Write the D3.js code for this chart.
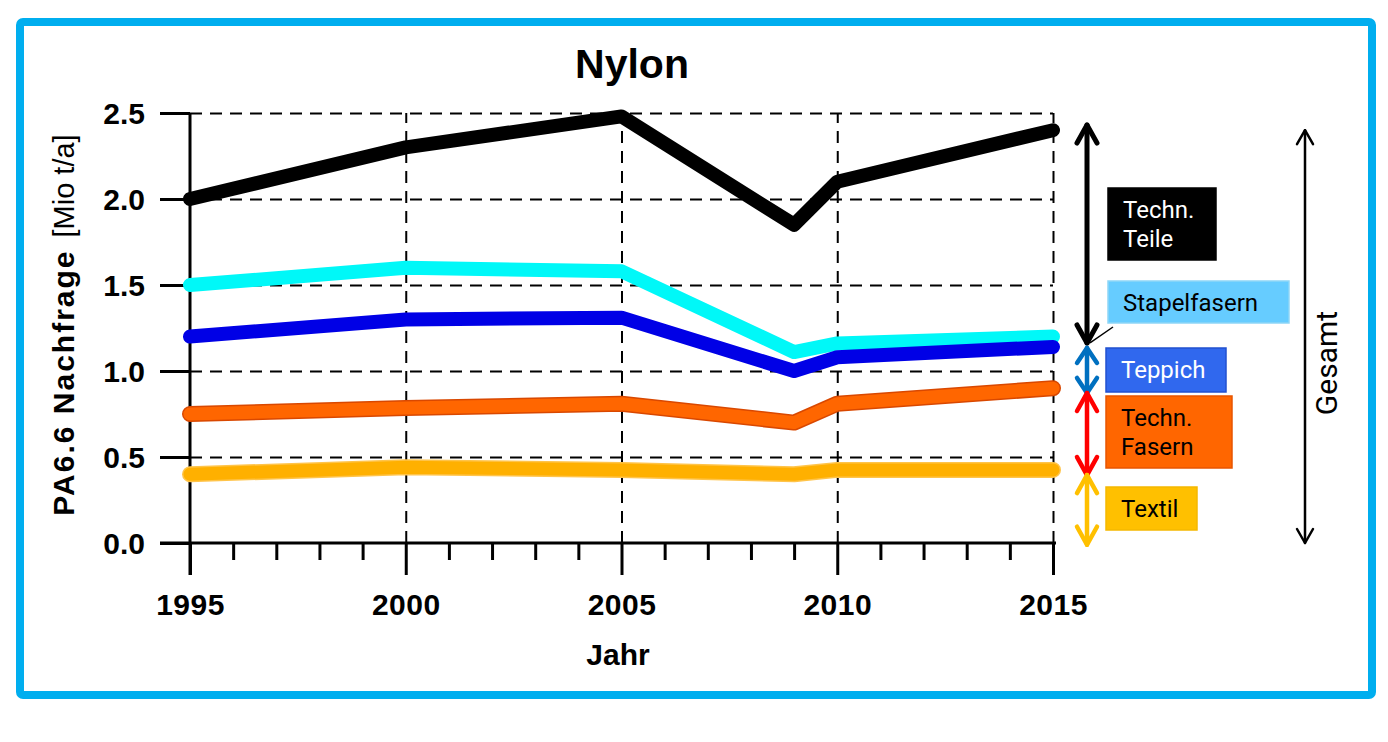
<!DOCTYPE html>
<html>
<head>
<meta charset="utf-8">
<script src="https://cdn.jsdelivr.net/npm/d3@7"></script>
<style>
  body { margin: 0; background: #fff; }
  svg { display: block; }
</style>
</head>
<body>
<div id="chart"></div>
<script>
// data (Mio t/a)
const years = [1995, 2000, 2005, 2009, 2010, 2015];
const technTeile   = [2.00, 2.30, 2.48, 1.85, 2.10, 2.40];
const stapelfasern = [1.50, 1.60, 1.58, 1.11, 1.16, 1.20];
const teppich      = [1.20, 1.30, 1.31, 1.00, 1.08, 1.14];
const technFasern  = [0.75, 0.785, 0.81, 0.70, 0.81, 0.90];
const textil       = [0.40, 0.44, 0.425, 0.40, 0.425, 0.425];

const yTicks = [0, 0.5, 1.0, 1.5, 2.0, 2.5];
const xMajor = [1995, 2000, 2005, 2010, 2015];
const xMinor = d3.range(1995, 2016).filter(d => d % 5 !== 0);

// legend labels and the value span each bracket arrow covers
const legendNames  = [["Techn.", "Teile"], ["Stapelfasern"], ["Teppich"], ["Techn.", "Fasern"], ["Textil"]];
const arrowTop     = [2.43, null, 1.134, 0.872, 0.395];
const arrowBottom  = [1.163, null, 0.872, 0.395, -0.01];
const gesamtSpan   = [2.40, 0];

const W = 1388, H = 742;
const svg = d3.select('#chart').append('svg')
  .attr('width', W).attr('height', H);

svg.append('rect')        // blue frame
  .attr('x', 20).attr('y', 22)
  .attr('width', 1352).attr('height', 673)
  .attr('rx', 3)
  .style('fill', '#fff')
  .style('stroke', '#00AEEF')
  .style('stroke-width', 8);

const x = d3.scaleLinear().domain([1995, 2015]).range([190, 1053]);
const y = d3.scaleLinear().domain([0, 2.5]).range([543, 113]);

const axisFont = '"Liberation Sans", Arial, sans-serif';
const boxFont = 'Roboto, "Noto Sans", sans-serif';

// dashed grid
svg.append('g')
  .attr('transform', `translate(0,${y(0)})`)
  .call(d3.axisBottom(x).tickValues(xMajor.slice(1)).tickSize(-(y(0) - y(2.5))).tickFormat(''))
  .call(g => g.select('.domain').remove())
  .selectAll('line')
  .style('stroke', '#000').style('stroke-width', 2).style('stroke-dasharray', '12,8');
svg.append('g')
  .attr('transform', `translate(${x(1995)},0)`)
  .call(d3.axisLeft(y).tickValues(yTicks.slice(1)).tickSize(-(x(2015) - x(1995))).tickFormat(''))
  .call(g => g.select('.domain').remove())
  .selectAll('line')
  .style('stroke', '#000').style('stroke-width', 2).style('stroke-dasharray', '12,8');

// y axis
const yAxis = svg.append('g')
  .attr('transform', `translate(${x(1995)},0)`)
  .call(d3.axisLeft(y).tickValues(yTicks).tickSize(30).tickSizeOuter(0).tickPadding(15)
    .tickFormat(d3.format('.1f')));
yAxis.select('.domain').remove();
yAxis.selectAll('line').style('stroke', '#000').style('stroke-width', 3);
yAxis.selectAll('text')
  .style('font-family', axisFont).style('font-weight', 'bold')
  .style('font-size', '30px').style('fill', '#000').attr('dy', '0.36em');

// x axis: minor and major ticks
const xMinorAxis = svg.append('g')
  .attr('transform', `translate(0,${y(0)})`)
  .call(d3.axisBottom(x).tickValues(xMinor).tickSize(17).tickFormat(''));
xMinorAxis.select('.domain').remove();
xMinorAxis.selectAll('line').style('stroke', '#000').style('stroke-width', 3);

const xAxis = svg.append('g')
  .attr('transform', `translate(0,${y(0)})`)
  .call(d3.axisBottom(x).tickValues(xMajor).tickSize(32).tickSizeOuter(0).tickPadding(19)
    .tickFormat(d3.format('d')));
xAxis.select('.domain').remove();
xAxis.selectAll('line').style('stroke', '#000').style('stroke-width', 3);
xAxis.selectAll('text')
  .style('font-family', axisFont).style('font-weight', 'bold')
  .style('font-size', '30px').style('fill', '#000').style('letter-spacing', '0.5px');

// axis lines
svg.append('line')
  .attr('x1', x(1995) - 30).attr('x2', x(2015) + 3)
  .attr('y1', y(0)).attr('y2', y(0))
  .style('stroke', '#000').style('stroke-width', 3);
svg.append('line')
  .attr('x1', x(1995)).attr('x2', x(1995))
  .attr('y1', y(2.5)).attr('y2', y(0) + 32)
  .style('stroke', '#000').style('stroke-width', 3);

// series lines
const line = d3.line().x((d, i) => x(years[i])).y(d => y(d));
const series = [
  { v: technTeile,   c: '#000000', edge: null },
  { v: stapelfasern, c: '#00F8F8', edge: null },
  { v: teppich,      c: '#0000E6', edge: null },
  { v: technFasern,  c: '#FF6600', edge: '#D94800' },
  { v: textil,       c: '#FFB000', edge: '#FFC44A' }
];
series.forEach(s => {
  if (s.edge) {
    svg.append('path').attr('d', line(s.v))
      .style('fill', 'none').style('stroke', s.edge)
      .style('stroke-width', 16).style('stroke-linecap', 'round').style('stroke-linejoin', 'round');
  }
  svg.append('path').attr('d', line(s.v))
    .style('fill', 'none').style('stroke', s.c)
    .style('stroke-width', s.edge ? 13 : 14).style('stroke-linecap', 'round').style('stroke-linejoin', 'round');
});

// title and axis titles
svg.append('text')
  .attr('x', 632).attr('y', 78)
  .style('text-anchor', 'middle')
  .style('font-family', axisFont).style('font-weight', 'bold').style('font-size', '41px')
  .text('Nylon');
svg.append('text')
  .attr('x', 618).attr('y', 665)
  .style('text-anchor', 'middle')
  .style('font-family', axisFont).style('font-weight', 'bold').style('font-size', '30px')
  .text('Jahr');
const yTitle = svg.append('text')
  .attr('transform', 'translate(74,325)rotate(-90)')
  .style('text-anchor', 'middle')
  .style('font-family', axisFont).style('font-size', '30px');
yTitle.append('tspan').style('font-weight', 'bold').style('letter-spacing', '2px').text('PA6.6 Nachfrage');
yTitle.append('tspan').attr('dx', 12).style('font-size', '29px').text('[Mio t/a]');

// bracket arrows
function arrow(ax, top, bottom, color, width, hw, hh) {
  const g = svg.append('g')
    .style('fill', 'none').style('stroke', color).style('stroke-width', width)
    .style('stroke-linecap', 'round').style('stroke-linejoin', 'round');
  g.append('line').attr('x1', ax).attr('x2', ax).attr('y1', top).attr('y2', bottom);
  g.append('polyline').attr('points', `${ax - hw},${top + hh} ${ax},${top} ${ax + hw},${top + hh}`);
  g.append('polyline').attr('points', `${ax - hw},${bottom - hh} ${ax},${bottom} ${ax + hw},${bottom - hh}`);
}
const arrowColors = ['#000000', null, '#0070C0', '#FF0000', '#FFC000'];
const arrowX = 1087;
legendNames.forEach((n, i) => {
  if (arrowTop[i] === null) return;
  const t = y(arrowTop[i]), b = y(arrowBottom[i]);
  const hh = Math.min(18, (b - t) / 3);
  arrow(arrowX, t, b, arrowColors[i], i === 0 ? 5 : 4.5, 10, hh);
});
// leader from Stapelfasern box to the black arrow tip
svg.append('line')
  .attr('x1', arrowX + 3).attr('y1', y(arrowBottom[0]))
  .attr('x2', 1113).attr('y2', 327)
  .style('stroke', '#000').style('stroke-width', 1.5);

arrow(1305, y(gesamtSpan[0]), y(gesamtSpan[1]), '#000', 2.5, 8, 14);
svg.append('text')
  .attr('transform', 'translate(1337,363)rotate(-90)')
  .style('text-anchor', 'middle')
  .style('font-family', boxFont).style('font-size', '30px')
  .text('Gesamt');

// legend boxes
const boxes = [
  { x: 1108, y: 188, w: 108, h: 72, fill: '#000000', stroke: '#000000', text: '#fff' },
  { x: 1108, y: 281, w: 181, h: 42, fill: '#66CCFF', stroke: '#8ED6F7', text: '#000' },
  { x: 1106, y: 348, w: 120, h: 44, fill: '#3068EE', stroke: '#2050D0', text: '#fff' },
  { x: 1106, y: 396, w: 126, h: 72, fill: '#FF6600', stroke: '#E85500', text: '#000' },
  { x: 1106, y: 487, w: 91,  h: 43, fill: '#FFC000', stroke: '#F5B800', text: '#000' }
];
legendNames.forEach((n, i) => {
  const b = boxes[i];
  svg.append('rect')
    .attr('x', b.x).attr('y', b.y).attr('width', b.w).attr('height', b.h)
    .style('fill', b.fill).style('stroke', b.stroke).style('stroke-width', 1.5);
  n.forEach((s, k) => {
    svg.append('text')
      .attr('x', b.x + 15).attr('y', b.y + 30 + k * 29)
      .style('font-family', boxFont).style('font-size', '24px')
      .style('fill', b.text)
      .text(s);
  });
});
</script>
</body>
</html>
